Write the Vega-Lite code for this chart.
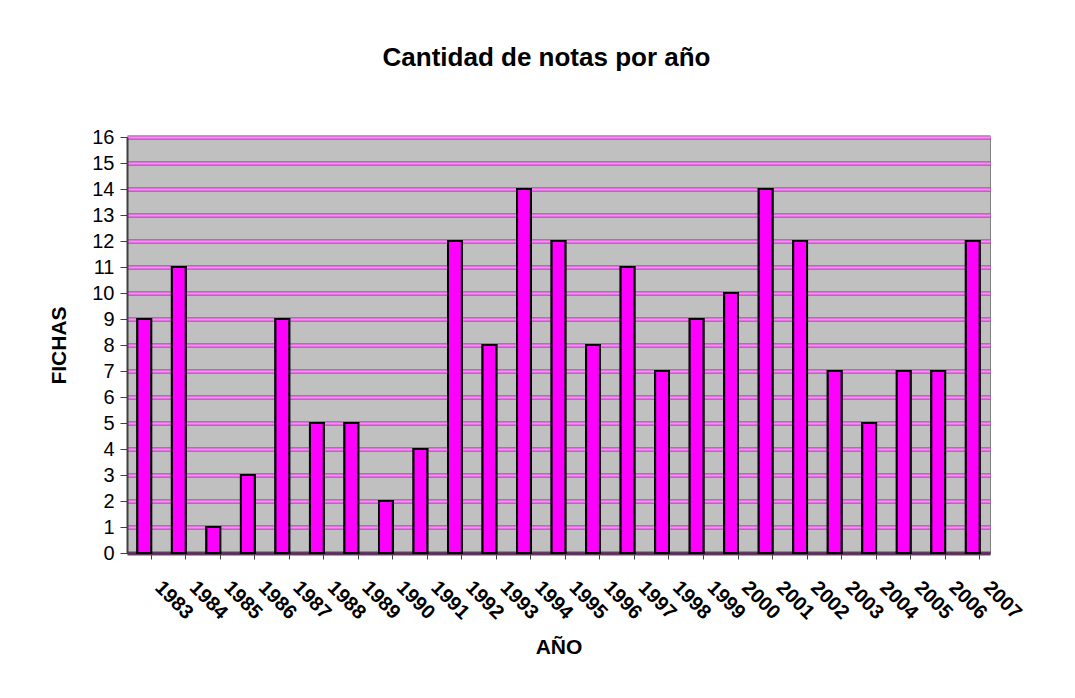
{
  "$schema": "https://vega.github.io/schema/vega-lite/v6.json",
  "width": 863,
  "height": 416,
  "autosize": {"type": "none"},
  "padding": {"left": 127, "top": 137, "right": 85, "bottom": 145},
  "background": "white",
  "title": {
    "text": "Cantidad de notas por año",
    "font": "Liberation Sans",
    "fontSize": 26,
    "fontWeight": "bold",
    "color": "black",
    "anchor": "middle",
    "baseline": "alphabetic",
    "offset": 35,
    "dx": -12
  },
  "config": {
    "view": {"fill": "#C0C0C0", "stroke": "#808080", "strokeWidth": 1},
    "axis": {"labelFont": "Liberation Sans", "titleFont": "Liberation Sans", "labelColor": "black", "titleColor": "black"}
  },
  "data": {
    "values": [
      {"year": "1983", "fichas": 9}, {"year": "1984", "fichas": 11}, {"year": "1985", "fichas": 1},
      {"year": "1986", "fichas": 3}, {"year": "1987", "fichas": 9}, {"year": "1988", "fichas": 5},
      {"year": "1989", "fichas": 5}, {"year": "1990", "fichas": 2}, {"year": "1991", "fichas": 4},
      {"year": "1992", "fichas": 12}, {"year": "1993", "fichas": 8}, {"year": "1994", "fichas": 14},
      {"year": "1995", "fichas": 12}, {"year": "1996", "fichas": 8}, {"year": "1997", "fichas": 11},
      {"year": "1998", "fichas": 7}, {"year": "1999", "fichas": 9}, {"year": "2000", "fichas": 10},
      {"year": "2001", "fichas": 14}, {"year": "2002", "fichas": 12}, {"year": "2003", "fichas": 7},
      {"year": "2004", "fichas": 5}, {"year": "2005", "fichas": 7}, {"year": "2006", "fichas": 7},
      {"year": "2007", "fichas": 12}
    ]
  },
  "encoding": {
    "x": {
      "field": "year",
      "type": "ordinal",
      "scale": {"paddingInner": 0.6, "paddingOuter": 0.3},
      "axis": {
        "title": "AÑO",
        "titleFontSize": 21,
        "titleFontWeight": "bold",
        "titlePadding": 14,
        "labelAngle": 45,
        "labelAlign": "left",
        "labelBaseline": "top",
        "labelFontSize": 20,
        "labelFontWeight": "bold",
        "labelPadding": 18,
        "labelOffset": 21,
        "bandPosition": 1,
        "tickSize": 6,
        "tickColor": "#404040",
        "domainColor": "#404040",
        "domainWidth": 2,
        "grid": false
      }
    }
  },
  "layer": [
    {
      "mark": {"type": "bar", "fill": "#FF00FF", "stroke": "black", "strokeWidth": 2},
      "encoding": {
        "y": {
          "field": "fichas",
          "type": "quantitative",
          "scale": {"domain": [0, 16], "nice": false},
          "axis": {
            "title": "FICHAS",
            "titleFontSize": 21,
            "titleFontWeight": "bold",
            "titlePadding": 22,
            "values": [0,1,2,3,4,5,6,7,8,9,10,11,12,13,14,15,16],
            "labelFontSize": 20,
            "labelPadding": 6,
            "tickSize": 7,
            "tickColor": "#404040",
            "domainColor": "#404040",
            "domainWidth": 2,
            "grid": true,
            "gridColor": "#803080",
            "gridWidth": 4,
            "gridOpacity": 1
          }
        }
      }
    },
    {
      "mark": {"type": "bar", "fill": "#FF00FF", "stroke": "black", "strokeWidth": 2},
      "encoding": {
        "y": {
          "field": "fichas",
          "type": "quantitative",
          "scale": {"domain": [0, 16], "nice": false},
          "axis": {
            "orient": "left",
            "title": null,
            "labels": false,
            "ticks": false,
            "domain": false,
            "values": [1,2,3,4,5,6,7,8,9,10,11,12,13,14,15,16],
            "grid": true,
            "gridColor": "#FF88FF",
            "gridWidth": 2.5,
            "gridOpacity": 1
          }
        }
      }
    }
  ],
  "resolve": {"axis": {"y": "independent"}}
}
